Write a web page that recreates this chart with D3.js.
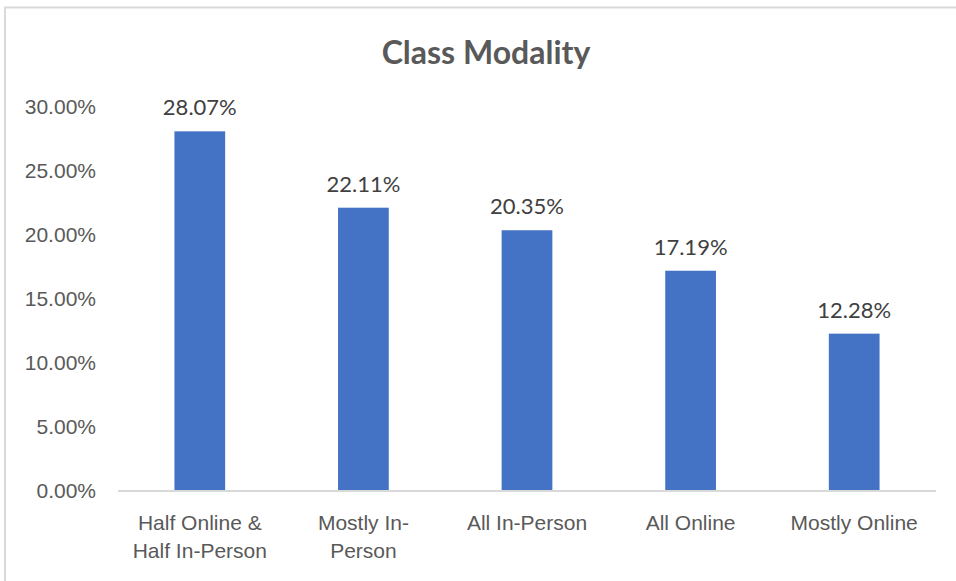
<!DOCTYPE html>
<html>
<head>
<meta charset="utf-8">
<script src="https://cdn.jsdelivr.net/npm/d3@7"></script>
<style>
  body { margin: 0; background: #fff; }
  svg { display: block; font-family: Lato, "Open Sans", sans-serif; }
  .axis text { fill: #595959; font-size: 21px; }
</style>
</head>
<body>
<svg></svg>
<script>
var categories = ["Half Online & Half In-Person", "Mostly In-Person", "All In-Person", "All Online", "Mostly Online"];
var shares = [28.07, 22.11, 20.35, 17.19, 12.28];
var yTicks = [0, 5, 10, 15, 20, 25, 30];
var title_text = "Class Modality";

var W = 956, H = 581;
var margin = {top: 106.6, right: 20, bottom: 90, left: 118},
    width = 936 - margin.left,
    height = 491 - margin.top;

var svg = d3.select("svg").attr("width", W).attr("height", H);

// chart frame (cropped at right and bottom in the original)
svg.append("rect")
    .attr("x", 5).attr("y", 7.5)
    .attr("width", 1000).attr("height", 700)
    .attr("fill", "none")
    .attr("stroke", "#d9d9d9")
    .attr("stroke-width", 2);

svg.append("text")
    .attr("x", 486)
    .attr("y", 64)
    .attr("text-anchor", "middle")
    .style("font-size", "32px")
    .style("font-weight", "bold")
    .style("fill", "#595959")
    .text(title_text);

var g = svg.append("g")
    .attr("transform", "translate(" + margin.left + "," + margin.top + ")");

var x = d3.scaleBand().domain(categories).range([0, width]).paddingInner(0.69).paddingOuter(0.345);
var y = d3.scaleLinear().domain([0, 30]).range([height, 0]);

var yAxis = d3.axisLeft(y)
    .tickValues(yTicks)
    .tickSize(0)
    .tickPadding(22)
    .tickFormat(function(d) { return d.toFixed(2) + "%"; });

g.append("g")
    .attr("class", "axis axis--y")
    .call(yAxis)
    .call(function(s) { s.select(".domain").remove(); });

g.selectAll(".bar")
    .data(shares)
    .enter().append("rect")
    .attr("class", "bar")
    .attr("x", function(d, i) { return x(categories[i]); })
    .attr("y", function(d) { return y(d); })
    .attr("width", x.bandwidth())
    .attr("height", function(d) { return height - y(d); })
    .attr("fill", "#4472c4");

g.append("line")
    .attr("x1", 0).attr("x2", width)
    .attr("y1", height).attr("y2", height)
    .attr("stroke", "#d9d9d9")
    .attr("stroke-width", 2);

g.selectAll(".label")
    .data(shares)
    .enter().append("text")
    .attr("class", "label")
    .attr("x", function(d, i) { return x(categories[i]) + x.bandwidth() / 2; })
    .attr("y", function(d) { return y(d) - 16; })
    .attr("text-anchor", "middle")
    .style("font-size", "22px")
    .style("fill", "#404040")
    .text(function(d) { return d.toFixed(2) + "%"; });

// category labels, wrapped like Excel (also breaking after hyphens)
var xAxis = d3.axisBottom(x).tickSize(0).tickPadding(0);
var xg = g.append("g")
    .attr("class", "axis axis--x")
    .attr("transform", "translate(0," + height + ")")
    .call(xAxis);
xg.select(".domain").remove();

xg.selectAll(".tick text").each(function(d) {
    var t = d3.select(this).text("").attr("y", 0).attr("dy", null);
    var parts = d.match(/[^ -]+-?\s*/g);
    var lines = [], cur = "";
    var probe = t.append("tspan");
    parts.forEach(function(p) {
        var test = cur + p;
        probe.text(test.trim());
        if (cur && probe.node().getComputedTextLength() > 150) {
            lines.push(cur.trim());
            cur = p;
        } else {
            cur = test;
        }
    });
    lines.push(cur.trim());
    probe.remove();
    lines.forEach(function(l, k) {
        t.append("tspan").attr("x", 0).attr("y", 39 + k * 28).text(l);
    });
});
</script>
</body>
</html>
